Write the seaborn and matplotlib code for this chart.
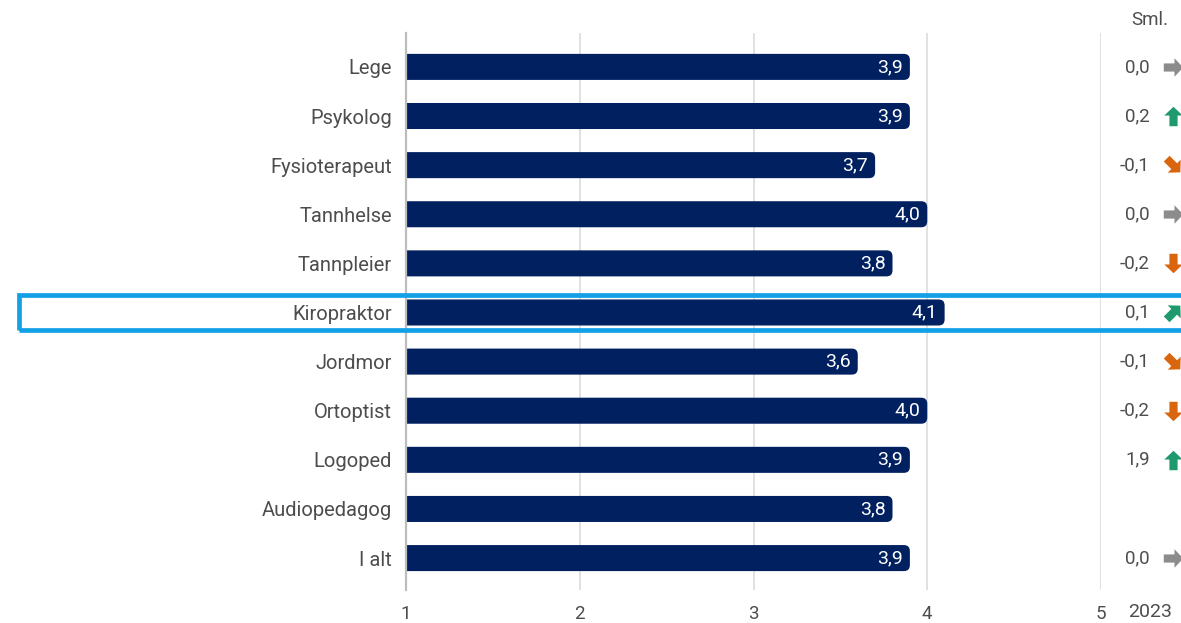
import matplotlib
matplotlib.use("Agg")
import matplotlib.pyplot as plt
from matplotlib.patches import FancyBboxPatch, Rectangle
from matplotlib.path import Path
from matplotlib.markers import MarkerStyle
from matplotlib.transforms import Affine2D
import seaborn as sns
import pandas as pd

# Data
categories = ["Lege", "Psykolog", "Fysioterapeut", "Tannhelse", "Tannpleier",
              "Kiropraktor", "Jordmor", "Ortoptist", "Logoped", "Audiopedagog", "I alt"]
scores = [3.9, 3.9, 3.7, 4.0, 3.8, 4.1, 3.6, 4.0, 3.9, 3.8, 3.9]
changes = [0.0, 0.2, -0.1, 0.0, -0.2, 0.1, -0.1, -0.2, 1.9, None, 0.0]
x_ticks = [1, 2, 3, 4, 5]
highlight = "Kiropraktor"
change_header = "Sml."
year_label = "2023"

NAVY = "#002060"
GREY_TXT = "#4d4d4d"
HILITE = "#14a0e6"
ARROW_GREY = "#8c8c8c"
ARROW_GREEN = "#1f9a6c"
ARROW_ORANGE = "#d9650f"

sns.set_theme(style="white")
plt.rcParams["font.family"] = ["Roboto", "DejaVu Sans"]

W, H = 1181, 623
fig = plt.figure(figsize=(W / 100, H / 100), dpi=100)
ax = fig.add_axes([406 / W, 33 / H, 695 / W, 557 / H])

df = pd.DataFrame({"kategori": categories, "score": scores})
sns.barplot(data=df, x="score", y="kategori", orient="h", color=NAVY,
            width=0.53, saturation=1, ax=ax)

ax.set_xlim(1, 5)
ax.set_ylim(len(categories) - 0.35, -0.69)

# Replace plain bars with bars rounded at the end
r_x = 6 / 174
aspect = (6 / 49) / r_x
for p in list(ax.patches):
    x0, y0 = p.get_x(), p.get_y()
    w, h = p.get_width(), p.get_height()
    rb = FancyBboxPatch((x0, y0), w, h,
                        boxstyle=f"round,pad=0,rounding_size={r_x}",
                        mutation_aspect=aspect, facecolor=NAVY,
                        edgecolor="none", zorder=3)
    p.remove()
    ax.add_patch(rb)

# Value labels inside the bars
for i, v in enumerate(scores):
    ax.text(v - 0.04, i, f"{v:.1f}".replace(".", ","), ha="right", va="center",
            color="white", fontsize=14, zorder=4)

# Grid and axis styling
ax.set_xticks(x_ticks)
ax.set_xticklabels([str(t) for t in x_ticks])
for t in x_ticks[1:]:
    ax.axvline(t, color="#dcdcdc", lw=1.2, zorder=0)
for s in ["top", "right", "bottom"]:
    ax.spines[s].set_visible(False)
ax.spines["left"].set_color("#bdbdbd")
ax.spines["left"].set_linewidth(1.6)
ax.spines["left"].set_zorder(5)
ax.tick_params(axis="x", length=0, pad=11, labelsize=13.5, labelcolor=GREY_TXT)
ax.tick_params(axis="y", length=0, pad=10, labelsize=14.5, labelcolor=GREY_TXT)
ax.set_xlabel("")
ax.set_ylabel("")

# Change column
def arrow_marker(angle):
    verts = [(-1, -0.42), (0.1, -0.42), (0.1, -0.95), (1, 0), (0.1, 0.95),
             (0.1, 0.42), (-1, 0.42), (-1, -0.42)]
    codes = [Path.MOVETO] + [Path.LINETO] * 6 + [Path.CLOSEPOLY]
    path = Path(verts, codes).transformed(Affine2D().rotate_deg(angle))
    return MarkerStyle(path)

x_val = (1150 - 406) / 695
x_arrow = (1173 - 406) / 695
ax.text(x_val, 1 + 13 / 557, change_header, transform=ax.transAxes,
        ha="center", va="center", fontsize=13.5, color=GREY_TXT)
for i, c in enumerate(changes):
    if c is None:
        continue
    ax.text(x_val, i, f"{c:.1f}".replace(".", ","),
            transform=ax.get_yaxis_transform(), ha="right", va="center",
            fontsize=13.5, color=GREY_TXT, clip_on=False)
    if c == 0:
        ang, col = 0, ARROW_GREY
    elif c > 0:
        ang, col = (45 if c < 0.2 else 90), ARROW_GREEN
    else:
        ang, col = (-45 if c > -0.2 else -90), ARROW_ORANGE
    ax.plot([x_arrow], [i], transform=ax.get_yaxis_transform(),
            marker=arrow_marker(ang), markersize=14, color=col,
            markeredgewidth=0, linestyle="none", clip_on=False)

fig.text(1150 / W, 1 - 612 / H, year_label, ha="center", va="center",
         fontsize=14, color=GREY_TXT)

# Highlight frame around the selected row
hi = categories.index(highlight)
ytop = fig.transFigure.inverted().transform(ax.transData.transform((1, hi - 0.35)))[1]
ybot = fig.transFigure.inverted().transform(ax.transData.transform((1, hi + 0.35)))[1]
fig.patches.append(Rectangle((19 / W, ybot), 1.2, ytop - ybot, transform=fig.transFigure,
                             fill=False, edgecolor=HILITE, lw=3.4, zorder=10))

fig.savefig("out.png", dpi=100, facecolor="white")
